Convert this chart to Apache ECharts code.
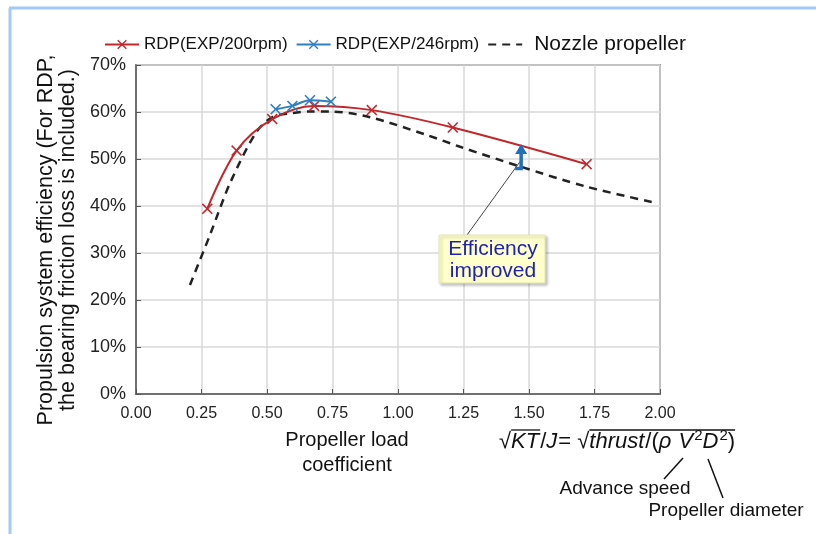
<!DOCTYPE html>
<html>
<head>
<meta charset="utf-8">
<script src="https://cdn.jsdelivr.net/npm/echarts@6/dist/echarts.min.js"></script>
<style>
  html, body { margin: 0; padding: 0; background: #fff; }
  #chart { width: 816px; height: 534px; }
</style>
</head>
<body>
<div id="chart"></div>
<script>
// values (x = load coefficient, y = efficiency %)
const rdp200X = [0.272, 0.384, 0.52, 0.68, 0.90, 1.209, 1.72]
const rdp200Y = [39.4, 51.8, 58.5, 61.3, 60.4, 56.7, 48.9]
const rdp246X = [0.533, 0.597, 0.664, 0.744]
const rdp246Y = [60.6, 61.3, 62.5, 62.2]
const nozzleX = [0.206, 0.282, 0.36, 0.46, 0.524, 0.60, 0.664, 0.74, 0.893, 1.11, 1.237, 1.466, 1.72, 1.99]
const nozzleY = [23.2, 33.8, 45.0, 55.8, 59.0, 59.8, 60.1, 60.1, 58.9, 55.1, 52.6, 48.4, 44.1, 40.6]
const seriesNames = ['RDP(EXP/200rpm)', 'RDP(EXP/246rpm)', 'Nozzle propeller']
// where the "efficiency improved" arrow sits
const arrowX = 1.47
const arrowFrom = 48.2
const arrowTo = 53.2

const pairs = (xs, ys) => xs.map((x, i) => [x, ys[i]])

const cross = 'path://M1,0L5,4L9,0L10,1L6,5L10,9L9,10L5,6L1,10L0,9L4,5L0,1Z'
const font = 'Liberation Sans'

const chart = echarts.init(document.getElementById('chart'))

chart.setOption({
  animation: false,
  textStyle: { fontFamily: font },
  legend: {
    left: 99,
    top: 29,
    itemWidth: 34,
    itemHeight: 12,
    itemGap: 8,
    textStyle: { fontSize: 17, color: '#111', fontFamily: font },
    data: [
      seriesNames[0],
      seriesNames[1],
      { name: seriesNames[2], itemStyle: { opacity: 0 }, textStyle: { fontSize: 21, padding: [0, 0, 0, 7] } }
    ]
  },
  grid: {
    left: 136, right: 156, top: 65, bottom: 140,
    show: true, borderColor: '#555', borderWidth: 1.5
  },
  xAxis: {
    type: 'value',
    min: 0, max: 2, interval: 0.25,
    axisLine: { lineStyle: { color: '#555', width: 1.5 } },
    axisTick: { inside: true, length: 5, lineStyle: { color: '#555' } },
    axisLabel: { fontSize: 16, color: '#222', margin: 12, formatter: v => v.toFixed(2) },
    splitLine: { lineStyle: { color: '#d9d9d9', width: 1.5 } }
  },
  yAxis: {
    type: 'value',
    min: 0, max: 70, interval: 10,
    axisLine: { lineStyle: { color: '#555', width: 1.5 } },
    axisTick: { inside: true, length: 5, lineStyle: { color: '#555' } },
    axisLabel: { fontSize: 18, color: '#222', margin: 10, formatter: '{value}%' },
    splitLine: { lineStyle: { color: '#d9d9d9', width: 1.5 } }
  },
  series: [
    {
      name: seriesNames[0],
      type: 'line',
      data: pairs(rdp200X, rdp200Y),
      smooth: 0.35,
      symbol: cross,
      symbolSize: 11,
      color: '#c0282d',
      lineStyle: { width: 2, color: '#c0282d' },
      z: 3
    },
    {
      name: seriesNames[1],
      type: 'line',
      data: pairs(rdp246X, rdp246Y),
      smooth: 0.35,
      symbol: cross,
      symbolSize: 11,
      color: '#2f7fc2',
      lineStyle: { width: 2, color: '#2f7fc2' },
      z: 4
    },
    {
      name: seriesNames[2],
      type: 'line',
      data: pairs(nozzleX, nozzleY),
      smooth: 0.3,
      symbol: 'none',
      color: '#222',
      lineStyle: { width: 2.5, color: '#222', type: [8, 6] },
      z: 2
    }
  ]
})

// annotations placed from the axes
const tipPt = chart.convertToPixel({ gridIndex: 0 }, [arrowX, arrowTo])
const basePt = chart.convertToPixel({ gridIndex: 0 }, [arrowX, arrowFrom])

// formula laid out piece by piece: text, italic, superscript
const formula = [
  ['√', 0, 0], ['KT', 1, 0], ['/', 0, 0], ['J', 1, 0], ['= ', 0, 0], ['√', 0, 0],
  ['thrust', 1, 0], ['/(', 0, 0], ['ρ ', 1, 0], ['V', 1, 0], ['2', 0, 1], ['D', 1, 0], ['2', 0, 1], [')', 0, 0]
]
const ctx = document.createElement('canvas').getContext('2d')
const fontOf = (it, sup) => (it ? 'italic ' : '') + (sup ? '15px ' : '22px ') + font
let fx = 499
const starts = []
const formulaText = formula.map(([t, it, sup]) => {
  const f = fontOf(it, sup)
  ctx.font = f
  const el = { type: 'text', x: fx, y: sup ? 436 : 442, style: { text: t, fill: '#111', font: f, verticalAlign: 'middle' } }
  starts.push(fx)
  fx += ctx.measureText(t).width + (it ? 1 : 0)
  return el
})
const endX = fx

chart.setOption({
  graphic: [
    // light blue frame of the original figure
    { type: 'line', shape: { x1: 9, y1: 8, x2: 816, y2: 8 }, style: { stroke: '#a3c9f5', lineWidth: 3 } },
    { type: 'line', shape: { x1: 10, y1: 8, x2: 10, y2: 534 }, style: { stroke: '#a3c9f5', lineWidth: 3 } },

    // y axis title
    { type: 'text', x: 57, y: 240, rotation: Math.PI / 2,
      style: {
        text: 'Propulsion system efficiency (For RDP,\nthe bearing friction loss is included.)',
        fill: '#111', font: '21.5px ' + font, align: 'center', verticalAlign: 'middle', lineHeight: 22
      } },

    // callout
    { type: 'line', shape: { x1: basePt[0] - 1, y1: basePt[1] - 6, x2: 467, y2: 235 }, style: { stroke: '#444', lineWidth: 1 }, z: 10 },
    { type: 'polyline', shape: { points: [[basePt[0] - 6, basePt[1] + 1], [basePt[0], basePt[1] + 1], [tipPt[0], tipPt[1] + 8]] },
      style: { stroke: '#1f6fc0', lineWidth: 3.5, fill: null }, z: 11 },
    { type: 'polygon', shape: { points: [[tipPt[0] - 6, tipPt[1] + 10], [tipPt[0] + 6, tipPt[1] + 10], [tipPt[0], tipPt[1]]] },
      style: { fill: '#1f6fc0' }, z: 11 },
    { type: 'rect', shape: { x: 439, y: 235, width: 106, height: 48 },
      style: { fill: '#ffffcc', stroke: '#e6e6b0', lineWidth: 1, shadowBlur: 3, shadowOffsetX: 2, shadowOffsetY: 2, shadowColor: 'rgba(0,0,0,0.25)' }, z: 10 },
    { type: 'text', x: 493, y: 260, z: 11,
      style: { text: 'Efficiency\nimproved', fill: '#2222b0', font: '21px ' + font, align: 'center', verticalAlign: 'middle', lineHeight: 22 } },

    // x axis title
    { type: 'text', x: 347, y: 453,
      style: { text: 'Propeller load\ncoefficient', fill: '#111', font: '20px ' + font, align: 'center', verticalAlign: 'middle', lineHeight: 25 } },

    // formula
    ...formulaText,
    { type: 'line', shape: { x1: starts[1], y1: 430, x2: starts[2], y2: 430 }, style: { stroke: '#111', lineWidth: 1.3 } },
    { type: 'line', shape: { x1: starts[6], y1: 430, x2: endX, y2: 430 }, style: { stroke: '#111', lineWidth: 1.3 } },

    // labels for V and D
    { type: 'line', shape: { x1: 683, y1: 458, x2: 664, y2: 479 }, style: { stroke: '#111', lineWidth: 1.5 } },
    { type: 'line', shape: { x1: 708, y1: 459, x2: 723, y2: 498 }, style: { stroke: '#111', lineWidth: 1.5 } },
    { type: 'text', x: 625, y: 489,
      style: { text: 'Advance speed', fill: '#111', font: '19px ' + font, align: 'center', verticalAlign: 'middle' } },
    { type: 'text', x: 726, y: 511,
      style: { text: 'Propeller diameter', fill: '#111', font: '19px ' + font, align: 'center', verticalAlign: 'middle' } }
  ]
})
</script>
</body>
</html>
